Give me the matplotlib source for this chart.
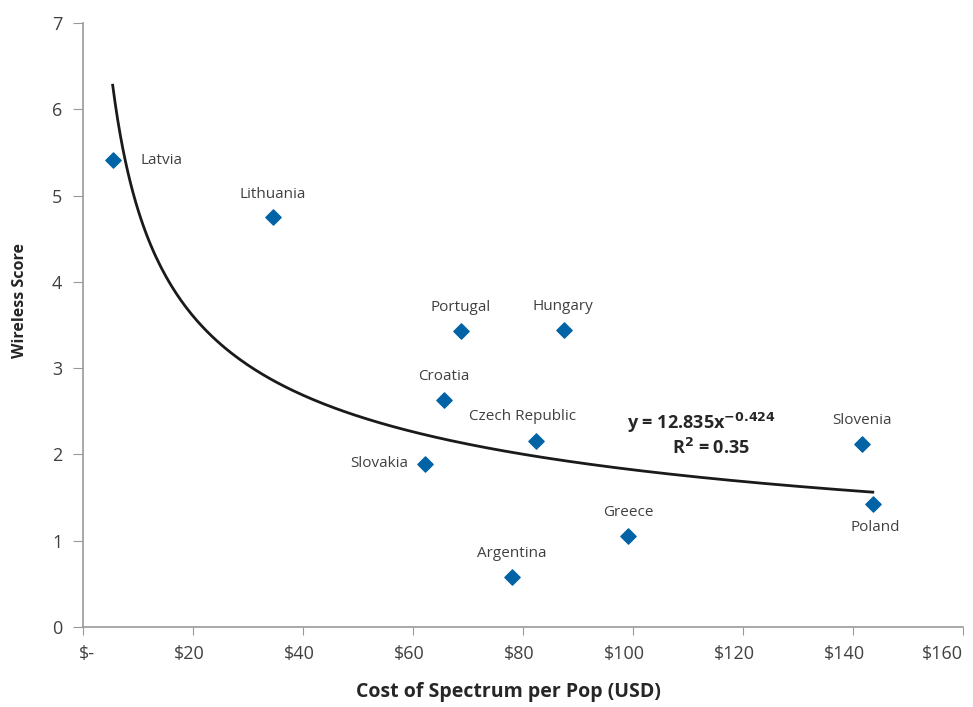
import matplotlib
matplotlib.use("Agg")
import matplotlib.pyplot as plt
import matplotlib.transforms as mtransforms
import numpy as np

plt.rcParams['font.family'] = ['Open Sans', 'DejaVu Sans']

# data
countries = ["Latvia", "Lithuania", "Portugal", "Hungary", "Croatia", "Czech Republic",
             "Slovakia", "Slovenia", "Poland", "Greece", "Argentina"]
cost = [5.4, 34.5, 68.7, 87.5, 65.6, 82.4, 62.2, 141.6, 143.6, 99.1, 78.0]
score = [5.41, 4.75, 3.43, 3.44, 2.63, 2.16, 1.89, 2.12, 1.43, 1.05, 0.58]
# label offsets (points) and alignment
offsets = [(20, 0, 'left'), (0, 16, 'center'), (0, 17, 'center'),
           (-1, 17, 'center'), (0, 17, 'center'), (-10, 17, 'center'),
           (-12, 0, 'right'), (0, 17, 'center'), (2, -17, 'center'),
           (0, 17, 'center'), (0, 17, 'center')]

# power trendline y = a*x^b, drawn over the data range
a, b = 12.835, -0.424

xtick_vals = [0, 20, 40, 60, 80, 100, 120, 140, 160]
xtick_labels = ["$-", "$20", "$40", "$60", "$80", "$100", "$120", "$140", "$160"]

txt_col = '#404040'

fig = plt.figure(figsize=(9.73, 7.07), dpi=100)
ax = fig.add_axes([0.0853, 0.1132, 0.9044, 0.8543])

xx = np.linspace(min(cost), max(cost), 300)
ax.plot(xx, a * xx ** b, color='#1a1a1a', lw=2)
ax.scatter(cost, score, marker='D', s=60, color='#0063a6', zorder=3)

for name, x, y, (dx, dy, ha) in zip(countries, cost, score, offsets):
    ax.annotate(name, (x, y), xytext=(dx, dy), textcoords='offset points',
                ha=ha, va='center', fontsize=11, color=txt_col)

ax.text(112.5, 2.364, r"y = 12.835x$^{\mathbf{-0.424}}$", ha='center', va='center',
        fontsize=13, fontweight='bold', color='#262626')
ax.text(114.2, 2.074, r"R$^{\mathbf{2}}$ = 0.35", ha='center', va='center',
        fontsize=13, fontweight='bold', color='#262626')

ax.set_xlim(0, 160)
ax.set_ylim(0, 7)
ax.set_xticks(xtick_vals)
ax.set_xticklabels(xtick_labels, fontsize=13, color=txt_col)
ax.set_yticks(range(8))
ax.tick_params(axis='y', labelsize=13, labelcolor=txt_col, length=7, color='#999999', pad=8)
ax.tick_params(axis='x', length=6, color='#999999', pad=7)
for s in ['top', 'right']:
    ax.spines[s].set_visible(False)
for s in ['left', 'bottom']:
    ax.spines[s].set_color('#999999')
    ax.spines[s].set_linewidth(1.2)

# Excel-style label placement: right edge a bit past the tick, last one kept inside
ticks = ax.xaxis.get_major_ticks()
for i, tk in enumerate(ticks):
    shift = 0 if i == len(ticks) - 1 else 12
    tk.label1.set_horizontalalignment('right')
    tk.label1.set_transform(tk.label1.get_transform() +
                            mtransforms.ScaledTranslation(shift / 100, 0, fig.dpi_scale_trans))

ax.set_xlabel("Cost of Spectrum per Pop (USD)", fontsize=14, fontweight='bold', color='#262626')
ax.set_ylabel("Wireless Score", fontsize=11.5, fontweight='bold', color='#262626')
ax.xaxis.set_label_coords(0.483, -0.1076)
ax.yaxis.set_label_coords(-0.0716, 0.540)
ax.xaxis.label.set_va('center')
ax.yaxis.label.set_va('center')

fig.savefig("out.png", dpi=100)
